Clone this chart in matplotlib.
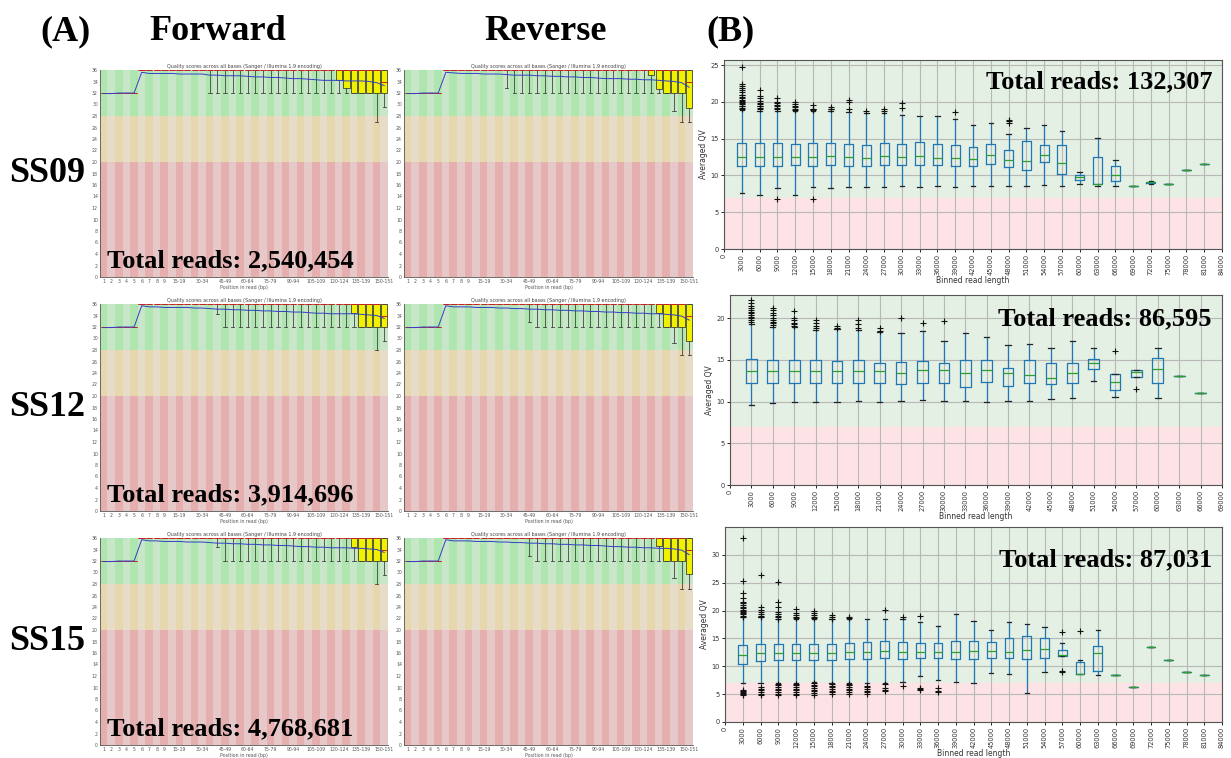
import numpy as np
import matplotlib
matplotlib.use('Agg')
import matplotlib.pyplot as plt

# ---------------- (A) FastQC 每碱基质量 ----------------
fq_labels = ['1', '2', '3', '4', '5', '6', '7', '8', '9', '10-14',
             '15-19', '20-24', '25-29', '30-34', '35-39', '40-44', '45-49', '50-54', '55-59', '60-64',
             '65-69', '70-74', '75-79', '80-84', '85-89', '90-94', '95-99', '100-104', '105-109', '110-114',
             '115-119', '120-124', '125-129', '130-134', '135-139', '140-144', '145-149', '150-151']
fq_yticks = [0, 2, 4, 6, 8, 10, 12, 14, 16, 18, 20, 22, 24, 26, 28, 30, 32, 34, 36]

fq_upper = [32, 32, 32, 32, 32, 36, 36, 36, 36, 36,
            36, 36, 36, 36, 36, 36, 36, 36, 36, 36,
            36, 36, 36, 36, 36, 36, 36, 36, 36, 36,
            36, 36, 36, 36, 36, 36, 36, 36]
fq_median = [32, 32, 32, 32, 32, 36, 36, 36, 36, 36,
             36, 36, 36, 36, 36, 36, 36, 36, 36, 36,
             36, 36, 36, 36, 36, 36, 36, 36, 36, 36,
             36, 36, 36, 36, 36, 36, 36, 34]

ss09_f_mean = [31.9, 31.9, 32.0, 32.0, 32.0, 35.6, 35.4, 35.4, 35.4, 35.4,
               35.3, 35.3, 35.3, 35.3, 35.1, 35.1, 35.0, 35.0, 35.0, 34.9,
               34.8, 34.8, 34.7, 34.7, 34.6, 34.5, 34.5, 34.4, 34.3, 34.2,
               34.2, 34.2, 34.1, 34.1, 34.1, 34.0, 33.8, 33.3]
ss09_f_q1 = [32, 32, 32, 32, 32, 36, 36, 36, 36, 36,
             36, 36, 36, 36, 36, 36, 36, 36, 36, 36,
             36, 36, 36, 36, 36, 36, 36, 36, 36, 36,
             36, 34.2, 32.8, 32, 32, 32, 32, 32]
ss09_f_low = [32, 32, 32, 32, 32, 36, 36, 36, 36, 36,
              36, 36, 36, 36, 32, 32, 32, 32, 32, 32,
              32, 32, 32, 32, 32, 32, 32, 32, 32, 32,
              32, 32, 32, 32, 32, 32, 27.0, 29.5]

ss09_r_mean = [31.9, 31.9, 32.0, 32.0, 32.0, 35.6, 35.5, 35.4, 35.4, 35.4,
               35.3, 35.3, 35.3, 35.2, 35.1, 35.1, 35.1, 35.0, 35.0, 34.9,
               34.9, 34.8, 34.8, 34.7, 34.7, 34.6, 34.5, 34.5, 34.5, 34.4,
               34.4, 34.3, 34.3, 34.2, 34.1, 34.0, 33.8, 33.0]
ss09_r_q1 = [32, 32, 32, 32, 32, 36, 36, 36, 36, 36,
             36, 36, 36, 36, 36, 36, 36, 36, 36, 36,
             36, 36, 36, 36, 36, 36, 36, 36, 36, 36,
             36, 36, 35.1, 32.7, 32, 32, 32, 29.4]
ss09_r_low = [32, 32, 32, 32, 32, 36, 36, 36, 36, 36,
              36, 36, 36, 32.8, 32, 32, 32, 32, 32, 32,
              32, 32, 32, 32, 32, 32, 32, 32, 32, 32,
              32, 32, 32, 32, 32, 28.9, 27.0, 27.0]

ss12_f_mean = [31.9, 31.9, 32.0, 32.0, 32.0, 35.7, 35.5, 35.5, 35.4, 35.4,
               35.4, 35.4, 35.3, 35.3, 35.2, 35.1, 35.1, 35.0, 35.0, 34.9,
               34.9, 34.8, 34.8, 34.7, 34.7, 34.6, 34.6, 34.5, 34.4, 34.4,
               34.3, 34.3, 34.3, 34.3, 34.2, 34.1, 34.0, 33.5]
ss12_f_q1 = [32, 32, 32, 32, 32, 36, 36, 36, 36, 36,
             36, 36, 36, 36, 36, 36, 36, 36, 36, 36,
             36, 36, 36, 36, 36, 36, 36, 36, 36, 36,
             36, 36, 36, 34.4, 32, 32, 32, 32]
ss12_f_low = [32, 32, 32, 32, 32, 36, 36, 36, 36, 36,
              36, 36, 36, 36, 36, 34.3, 32, 32, 32, 32,
              32, 32, 32, 32, 32, 32, 32, 32, 32, 32,
              32, 32, 32, 32, 32, 32, 28.0, 29.5]

ss12_r_mean = [31.9, 31.9, 32.0, 32.0, 32.0, 35.7, 35.5, 35.5, 35.5, 35.4,
               35.4, 35.4, 35.3, 35.3, 35.2, 35.2, 35.1, 35.1, 35.0, 35.0,
               34.9, 34.9, 34.8, 34.8, 34.7, 34.7, 34.6, 34.6, 34.5, 34.5,
               34.4, 34.4, 34.3, 34.3, 34.2, 34.1, 33.9, 33.2]
ss12_r_q1 = [32, 32, 32, 32, 32, 36, 36, 36, 36, 36,
             36, 36, 36, 36, 36, 36, 36, 36, 36, 36,
             36, 36, 36, 36, 36, 36, 36, 36, 36, 36,
             36, 36, 36, 34.4, 32, 32, 32, 29.6]
ss12_r_low = [32, 32, 32, 32, 32, 36, 36, 36, 36, 36,
              36, 36, 36, 36, 36, 36, 32.8, 32, 32, 32,
              32, 32, 32, 32, 32, 32, 32, 32, 32, 32,
              32, 32, 32, 32, 32, 29.2, 27.2, 27.2]

ss15_f_mean = [31.9, 31.9, 32.0, 32.0, 32.0, 35.7, 35.5, 35.5, 35.4, 35.4,
               35.4, 35.3, 35.3, 35.3, 35.2, 35.1, 35.1, 35.0, 35.0, 34.9,
               34.9, 34.8, 34.8, 34.7, 34.7, 34.6, 34.5, 34.5, 34.4, 34.4,
               34.3, 34.3, 34.3, 34.2, 34.2, 34.1, 34.0, 33.5]
ss15_f_q1 = [32, 32, 32, 32, 32, 36, 36, 36, 36, 36,
             36, 36, 36, 36, 36, 36, 36, 36, 36, 36,
             36, 36, 36, 36, 36, 36, 36, 36, 36, 36,
             36, 36, 36, 34.5, 32, 32, 32, 32]
ss15_f_low = [32, 32, 32, 32, 32, 36, 36, 36, 36, 36,
              36, 36, 36, 36, 36, 34.4, 32, 32, 32, 32,
              32, 32, 32, 32, 32, 32, 32, 32, 32, 32,
              32, 32, 32, 32, 32, 32, 28.0, 29.6]

ss15_r_mean = [31.9, 31.9, 32.0, 32.0, 32.0, 35.7, 35.5, 35.5, 35.5, 35.4,
               35.4, 35.4, 35.3, 35.3, 35.2, 35.2, 35.1, 35.1, 35.0, 35.0,
               34.9, 34.9, 34.8, 34.8, 34.7, 34.7, 34.6, 34.5, 34.5, 34.4,
               34.4, 34.3, 34.3, 34.2, 34.2, 34.1, 33.9, 33.1]
ss15_r_q1 = [32, 32, 32, 32, 32, 36, 36, 36, 36, 36,
             36, 36, 36, 36, 36, 36, 36, 36, 36, 36,
             36, 36, 36, 36, 36, 36, 36, 36, 36, 36,
             36, 36, 36, 34.6, 32, 32, 32, 29.7]
ss15_r_low = [32, 32, 32, 32, 32, 36, 36, 36, 36, 36,
              36, 36, 36, 36, 36, 36, 32.9, 32, 32, 32,
              32, 32, 32, 32, 32, 32, 32, 32, 32, 32,
              32, 32, 32, 32, 32, 29.0, 27.1, 27.1]

illumina_reads = ['2,540,454', '3,914,696', '4,768,681']
samples = ['SS09', 'SS12', 'SS15']

# ---------------- (B) 长读长平均质量 ----------------
b1_pos = [3000, 6000, 9000, 12000, 15000, 18000, 21000, 24000, 27000, 30000,
          33000, 36000, 39000, 42000, 45000, 48000, 51000, 54000, 57000, 60000,
          63000, 66000, 69000, 72000, 75000, 78000, 81000]
b1_low = [7.6, 7.3, 8.3, 7.4, 8.4, 8.3, 8.4, 8.4, 8.4, 8.5, 8.4, 8.5, 8.4, 8.5,
          8.6, 8.5, 8.5, 8.7, 8.5, 8.9, 8.6, 8.5, 8.6, 8.9, 8.8, 10.8, 11.6]
b1_q1 = [11.3, 11.3, 11.3, 11.4, 11.3, 11.4, 11.3, 11.3, 11.4, 11.4, 11.4, 11.4, 11.3, 11.3,
         11.5, 11.1, 10.7, 11.8, 10.2, 9.4, 8.8, 9.2, 8.6, 8.95, 8.8, 10.8, 11.6]
b1_med = [12.5, 12.5, 12.5, 12.5, 12.5, 12.6, 12.5, 12.4, 12.6, 12.5, 12.6, 12.4, 12.4, 12.3,
          12.8, 12.1, 12.0, 12.8, 11.7, 9.8, 8.8, 10.0, 8.6, 9.05, 8.8, 10.8, 11.6]
b1_q3 = [14.4, 14.4, 14.4, 14.3, 14.4, 14.4, 14.3, 14.2, 14.4, 14.3, 14.5, 14.3, 14.1, 13.9,
         14.3, 13.5, 14.7, 14.2, 14.2, 10.1, 12.5, 11.3, 8.6, 9.15, 8.8, 10.8, 11.6]
b1_high = [18.9, 18.8, 18.8, 18.7, 18.8, 18.8, 18.6, 18.5, 18.5, 18.2, 18.1, 18.1, 17.7, 16.9,
           17.2, 15.7, 16.5, 16.9, 16.0, 10.5, 15.1, 12.1, 8.6, 9.2, 8.8, 10.8, 11.6]
b1_fliers = [[19.0, 19.2, 19.4, 19.5, 19.7, 19.8, 20.0, 20.1, 20.3, 20.5, 20.7, 20.9, 21.0,
              21.3, 21.6, 21.9, 22.2, 22.5, 24.8],
             [19.0, 19.2, 19.4, 19.5, 19.7, 19.9, 20.1, 20.6, 20.8, 21.6],
             [19.0, 19.2, 19.4, 19.6, 19.8, 20.0, 20.6, 6.8],
             [18.9, 19.1, 19.3, 19.5, 19.7, 20.0],
             [18.9, 19.0, 19.1, 19.6, 6.8],
             [19.0, 19.1, 19.3],
             [19.1, 20.0, 20.3],
             [18.7],
             [18.7, 19.0],
             [19.2, 19.8],
             [], [], [18.6], [], [], [17.2, 17.4, 17.6], [], [], [], [],
             [], [], [], [], [], [], []]

b2_pos = [3000, 6000, 9000, 12000, 15000, 18000, 21000, 24000, 27000, 30000,
          33000, 36000, 39000, 42000, 45000, 48000, 51000, 54000, 57000, 60000,
          63000, 66000]
b2_low = [9.6, 9.9, 10.0, 10.0, 10.0, 10.1, 10.0, 10.1, 10.2, 10.1, 10.1,
          10.0, 10.1, 10.1, 10.3, 10.4, 12.5, 10.6, 13.0, 10.4, 13.1, 11.0]
b2_q1 = [12.2, 12.3, 12.3, 12.3, 12.3, 12.3, 12.3, 12.1, 12.3, 12.3, 11.8,
         12.4, 11.9, 12.3, 12.1, 12.3, 13.9, 11.4, 13.0, 12.2, 13.1, 11.0]
b2_med = [13.7, 13.7, 13.7, 13.7, 13.7, 13.7, 13.7, 13.5, 13.8, 13.8, 13.4,
          13.8, 13.4, 13.2, 12.8, 13.5, 14.6, 12.4, 13.6, 13.9, 13.1, 11.0]
b2_q3 = [15.1, 15.0, 15.0, 15.0, 14.9, 15.0, 14.7, 14.8, 14.9, 14.7, 15.0,
         15.0, 14.1, 15.0, 14.7, 14.6, 15.1, 13.3, 13.8, 15.2, 13.1, 11.0]
b2_high = [19.3, 19.0, 19.0, 18.6, 18.7, 18.6, 18.4, 18.2, 18.5, 17.3, 18.3,
           17.8, 16.8, 16.9, 16.5, 17.3, 16.5, 13.3, 13.8, 16.5, 13.1, 11.0]
b2_fliers = [[19.6, 19.8, 20.0, 20.2, 20.4, 20.6, 20.8, 21.0, 21.2, 21.5, 21.8, 22.2],
             [19.2, 19.4, 19.6, 19.8, 20.1, 20.4, 20.7, 21.0, 21.3],
             [19.1, 19.3, 19.5, 19.8, 20.1, 20.9],
             [18.8, 19.1, 19.4, 19.8],
             [18.9, 19.1],
             [18.8, 19.3, 19.8],
             [18.5, 18.8],
             [20.0],
             [19.4],
             [19.7],
             [], [], [], [], [], [], [], [16.1], [11.5], [], [], []]

b3_pos = b1_pos
b3_low = [7.0, 7.0, 7.0, 7.0, 7.1, 7.0, 7.0, 7.0, 7.0, 7.2, 8.2, 7.6, 7.2, 7.0,
          8.8, 8.6, 5.2, 9.0, 11.8, 8.6, 8.5, 8.5, 6.2, 13.4, 11.1, 8.9, 8.4]
b3_q1 = [10.5, 10.9, 11.1, 11.1, 11.2, 11.2, 11.3, 11.3, 11.5, 11.3, 11.5, 11.5, 11.3, 11.3,
         11.4, 11.4, 11.3, 11.4, 11.9, 8.6, 9.1, 8.5, 6.2, 13.4, 11.1, 8.9, 8.4]
b3_med = [12.1, 12.3, 12.3, 12.4, 12.4, 12.4, 12.5, 12.6, 12.7, 12.6, 12.6, 12.5, 12.5, 12.8,
          12.7, 12.5, 12.9, 13.1, 12.0, 8.7, 12.3, 8.5, 6.2, 13.4, 11.1, 8.9, 8.4]
b3_q3 = [13.9, 14.0, 14.0, 14.0, 14.0, 14.0, 14.1, 14.4, 14.5, 14.3, 14.1, 14.1, 14.5, 14.5,
         14.4, 15.1, 15.5, 15.0, 13.0, 10.7, 13.7, 8.5, 6.2, 13.4, 11.1, 8.9, 8.4]
b3_high = [18.8, 18.8, 18.4, 18.5, 18.4, 18.4, 18.4, 18.5, 18.5, 18.4, 18.0, 17.3, 19.3, 18.1,
           16.6, 17.9, 17.6, 17.1, 14.2, 11.2, 16.6, 8.5, 6.2, 13.4, 11.1, 8.9, 8.4]
b3_fliers = [[18.9, 19.1, 19.3, 19.5, 19.7, 19.9, 20.1, 20.4, 20.7, 21.0, 21.3, 21.6, 22.3,
              23.2, 25.3, 33.1, 4.8, 5.0, 5.2, 5.4, 5.6, 5.8],
             [18.9, 19.1, 19.4, 19.7, 20.1, 20.6, 26.4, 4.9, 5.1, 5.4, 5.7, 6.0, 6.2],
             [18.5, 18.8, 19.1, 19.4, 19.8, 20.6, 21.6, 25.1, 4.8, 5.1, 5.4, 5.7, 6.0, 6.3, 6.6, 6.9],
             [18.6, 18.9, 19.2, 19.6, 20.3, 4.8, 5.1, 5.4, 5.7, 6.0, 6.3, 6.6, 6.9],
             [18.6, 18.9, 19.2, 19.5, 19.9, 4.9, 5.2, 5.5, 5.8, 6.1, 6.4, 6.7, 7.0],
             [18.5, 18.8, 19.2, 5.0, 5.3, 5.6, 5.9, 6.2, 6.5, 6.8],
             [18.6, 18.9, 5.1, 5.4, 5.7, 6.0, 6.3, 6.6, 6.9],
             [5.0, 5.3, 5.6, 5.9, 6.2, 6.5],
             [20.1, 5.5, 5.8, 6.1, 6.8],
             [18.8, 6.4],
             [19.0, 5.7, 5.9, 6.1],
             [5.3, 5.5, 6.1],
             [], [], [], [], [], [],
             [16.1, 8.9, 9.1],
             [16.3],
             [], [], [], [], [], [], []]

pacbio_reads = ['132,307', '86,595', '87,031']

# ---------------- 画布 ----------------
W, H = 1231, 758
fig = plt.figure(figsize=(W / 100, H / 100), dpi=100)
serif = 'Liberation Serif'


def add_ax(left, top, right, bottom):
    return fig.add_axes([left / W, 1 - bottom / H, (right - left) / W, (bottom - top) / H])


def put_text(x, y, s, size, ha='left'):
    fig.text(x / W, 1 - y / H, s, fontsize=size, fontweight='bold', family=serif,
             ha=ha, va='baseline', zorder=10)


def draw_fastqc(ax, mean, q1, low):
    x = np.arange(len(fq_labels))
    dark = [i % 2 == 0 for i in x]
    # 背景条纹（红/橙/绿 三个区间，深浅交替），略微重叠避免出现白缝
    ax.bar(x, 20, bottom=0, width=1.06, color=['#e6afaf' if d else '#e6c8c8' for d in dark],
           linewidth=0, zorder=0)
    ax.bar(x, 8, bottom=20, width=1.06, color=['#e6d7af' if d else '#e6dcc8' for d in dark],
           linewidth=0, zorder=0)
    ax.bar(x, 8, bottom=28, width=1.06, color=['#afe6af' if d else '#c8e6c8' for d in dark],
           linewidth=0, zorder=0)

    stats = [dict(whislo=a, q1=b, med=c, q3=d, whishi=d) for a, b, c, d in zip(low, q1, fq_median, fq_upper)]
    ax.bxp(stats, positions=x, widths=0.85, patch_artist=True, showfliers=False, manage_ticks=False,
           boxprops=dict(facecolor='#f0f000', edgecolor='#222222', linewidth=0.5),
           medianprops=dict(color='#d02020', linewidth=0.7),
           whiskerprops=dict(color='#444444', linewidth=0.6),
           capprops=dict(color='#444444', linewidth=0.6))
    ax.plot(x, mean, color='#3040c8', linewidth=0.7, zorder=5)

    ax.set_xlim(-0.5, len(fq_labels) - 0.5)
    ax.set_ylim(0, 36)
    shown = [i for i in x if i < 9 or (i - 10) % 3 == 0]
    ax.set_xticks(shown)
    ax.set_xticklabels([fq_labels[i] for i in shown])
    ax.set_yticks(fq_yticks)
    ax.tick_params(length=0, labelsize=3.3, labelcolor='#555555', pad=1.5)
    ax.set_xlabel('Position in read (bp)', fontsize=3.4, color='#555555', labelpad=1)
    ax.set_title('Quality scores across all bases (Sanger / Illumina 1.9 encoding)',
                 fontsize=3.5, color='#444444', pad=1.5)
    for side in ['top', 'right']:
        ax.spines[side].set_visible(False)
    for side in ['left', 'bottom']:
        ax.spines[side].set_color('#555555')
        ax.spines[side].set_linewidth(0.6)


def draw_longread(ax, pos, low, q1, med, q3, high, fliers, xmax, ymax, yticks):
    ax.axhspan(7, ymax, color='#e4f0e4', zorder=0)
    ax.axhspan(0, 7, color='#fde3e5', zorder=0)
    stats = [dict(whislo=a, q1=b, med=c, q3=d, whishi=e, fliers=f)
             for a, b, c, d, e, f in zip(low, q1, med, q3, high, fliers)]
    ax.bxp(stats, positions=pos, widths=1500, manage_ticks=False,
           boxprops=dict(color='#1f77b4', linewidth=0.9),
           whiskerprops=dict(color='#1f77b4', linewidth=0.9),
           medianprops=dict(color='#2ca02c', linewidth=0.9),
           capprops=dict(color='#222222', linewidth=0.9),
           flierprops=dict(marker='+', markeredgecolor='#111111', markersize=4, markeredgewidth=0.8))
    ax.set_xlim(0, xmax)
    ax.set_ylim(0, ymax)
    ticks = np.arange(0, xmax + 1, 3000)
    ax.set_xticks(ticks)
    ax.set_xticklabels([str(t) for t in ticks], rotation=90)
    ax.set_yticks(yticks)
    ax.grid(True, color='#b8b8b8', linewidth=0.8)
    ax.tick_params(labelsize=4.8, labelcolor='#333333', length=2.5, width=0.6, pad=1)
    ax.set_xlabel('Binned read length', fontsize=5.5, color='#333333', labelpad=0.5)
    ax.set_ylabel('Averaged QV', fontsize=5.5, color='#333333', labelpad=2)
    for sp in ax.spines.values():
        sp.set_color('#555555')
        sp.set_linewidth(0.8)


# (A) 六个 FastQC 面板
fwd = [(ss09_f_mean, ss09_f_q1, ss09_f_low), (ss12_f_mean, ss12_f_q1, ss12_f_low),
       (ss15_f_mean, ss15_f_q1, ss15_f_low)]
rev = [(ss09_r_mean, ss09_r_q1, ss09_r_low), (ss12_r_mean, ss12_r_q1, ss12_r_low),
       (ss15_r_mean, ss15_r_q1, ss15_r_low)]
row_top = [70, 304, 538]
for r in range(3):
    top = row_top[r]
    ax_f = add_ax(100, top, 388, top + 207)
    draw_fastqc(ax_f, *fwd[r])
    ax_r = add_ax(404, top, 693, top + 207)
    draw_fastqc(ax_r, *rev[r])
    put_text(107, top + 197, 'Total reads: ' + illumina_reads[r], 19)
    put_text(47, top + 112, samples[r], 26, ha='center')

# (B) 三个长读长面板
ax1 = add_ax(724, 60, 1222, 249)
draw_longread(ax1, b1_pos, b1_low, b1_q1, b1_med, b1_q3, b1_high, b1_fliers, 84000, 25.7, [0, 5, 10, 15, 20, 25])
ax2 = add_ax(730, 295, 1222, 485)
draw_longread(ax2, b2_pos, b2_low, b2_q1, b2_med, b2_q3, b2_high, b2_fliers, 69000, 22.8, [0, 5, 10, 15, 20])
ax3 = add_ax(725, 527, 1222, 722)
draw_longread(ax3, b3_pos, b3_low, b3_q1, b3_med, b3_q3, b3_high, b3_fliers, 84000, 35.0, [0, 5, 10, 15, 20, 25, 30])

put_text(1212, 88, 'Total reads: ' + pacbio_reads[0], 19, ha='right')
put_text(1212, 325, 'Total reads: ' + pacbio_reads[1], 19, ha='right')
put_text(1212, 566, 'Total reads: ' + pacbio_reads[2], 19, ha='right')

# 标题
put_text(65, 40, '(A)', 26, ha='center')
put_text(218, 40, 'Forward', 26, ha='center')
put_text(546, 40, 'Reverse', 26, ha='center')
put_text(730, 40, '(B)', 26, ha='center')

fig.savefig('out.png', dpi=100)
